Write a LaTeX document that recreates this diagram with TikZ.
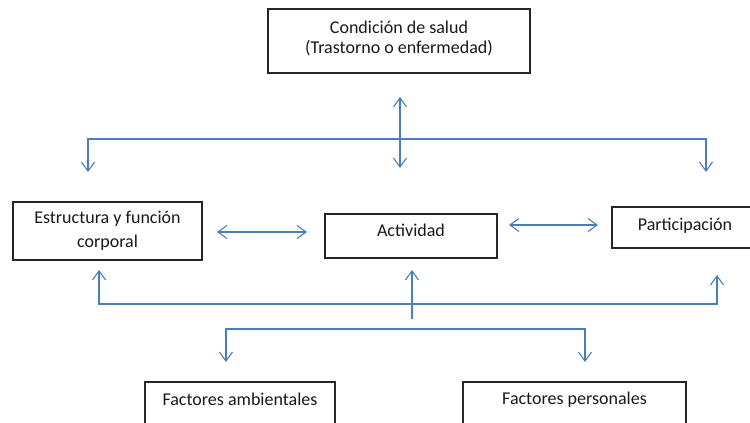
\documentclass[tikz,border=0pt]{standalone}
\usepackage{fontspec}
\setmainfont{Carlito}
\usetikzlibrary{arrows.meta}
\definecolor{linkblue}{HTML}{4A7EBB}
\definecolor{boxline}{HTML}{262626}
\begin{document}
\begin{tikzpicture}[x=1pt,y=-1pt,
  box/.style={draw=boxline, line width=1.1pt, fill=white, rectangle, inner sep=0pt},
  lbl/.style={font=\fontsize{18}{20}\selectfont, align=center, inner sep=0pt, anchor=center, text=black!90},
  link/.style={draw=linkblue, line width=1.1pt},
  tip/.style={-{Straight Barb[length=9pt,width=13pt,line width=1.1pt]}},
  dtip/.style={{Straight Barb[length=9pt,width=13pt,line width=1.1pt]}-{Straight Barb[length=9pt,width=13pt,line width=1.1pt]}}
]
\useasboundingbox (0,0) rectangle (750,423);
\clip (0,0) rectangle (750,423);
\fill[white] (0,0) rectangle (750,423);

% boxes
\node[box, minimum width=262pt, minimum height=64pt,
  label={[lbl, yshift=3pt]center:Condición de salud\\(Trastorno o enfermedad)}] (cond) at (399,41) {};
\node[box, minimum width=189pt, minimum height=58pt,
  label={[lbl, font=\fontsize{18}{24}\selectfont]center:Estructura y función\\corporal}] (esf) at (107.5,231) {};
\node[box, minimum width=172pt, minimum height=44pt,
  label={[lbl, yshift=6pt]center:Actividad}] (act) at (411,236) {};
\node[box, minimum width=148pt, minimum height=41pt,
  label={[lbl, xshift=-1pt, yshift=2pt]center:Participación}] (part) at (686,227.5) {};
\node[box, minimum width=190pt, minimum height=80pt,
  label={[lbl, yshift=-18pt]north:Factores ambientales}] (amb) at (240,422) {};
\node[box, minimum width=223pt, minimum height=80pt,
  label={[lbl, yshift=-18pt]north:Factores personales}] (pers) at (574.5,422) {};

% coordinates for connector ends
\coordinate (ct) at (400,97);
\coordinate (cb) at (400,168);
\coordinate (hm) at (400,139);
\coordinate (aL) at (88,172);
\coordinate (aR) at (706,172);
\coordinate (e1) at (217,232);
\coordinate (e2) at (307,232);
\coordinate (p1) at (509,225);
\coordinate (p2) at (598,225);
\coordinate (bm) at (412,304);
\coordinate (uL) at (99,270);
\coordinate (uR) at (717,275);
\coordinate (bb) at (412,319);
\coordinate (ua) at (412,270);
\coordinate (lm) at (412,329);
\coordinate (dL) at (226,362);
\coordinate (dR) at (585,362);

% connectors
\draw[link, dtip] (ct) -- (cb);
\draw[link, tip] (hm) -| (aL);
\draw[link, tip] (hm) -| (aR);
\draw[link, dtip] (e1) -- (e2);
\draw[link, dtip] (p1) -- (p2);
\draw[link, tip] (bm) -| (uL);
\draw[link, tip] (bm) -| (uR);
\draw[link, tip] (bb) -- (ua);
\draw[link, tip] (lm) -| (dL);
\draw[link, tip] (lm) -| (dR);
\end{tikzpicture}
\end{document}
